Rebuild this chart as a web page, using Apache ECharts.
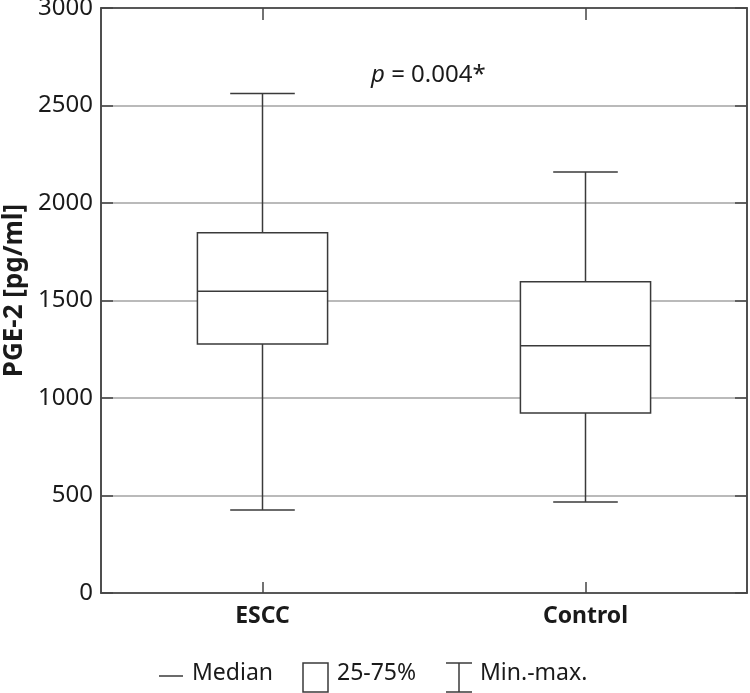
<!DOCTYPE html>
<html>
<head>
<meta charset="utf-8">
<script src="https://cdn.jsdelivr.net/npm/echarts@6/dist/echarts.min.js"></script>
<style>html,body{margin:0;padding:0;background:#fff}#c{width:750px;height:693px}</style>
</head>
<body>
<div id="c"></div>
<script>
const categories = ['ESCC', 'Control'];
const minVals = [426, 467];
const q1Vals = [1277, 923];
const medianVals = [1547, 1268];
const q3Vals = [1848, 1596];
const maxVals = [2562, 2159];
const yTicks = [0, 500, 1000, 1500, 2000, 2500, 3000];

const FONT = 'Noto Sans';
const LINE = '#3a3a3a';

const seriesData = categories.map((c, i) => [i, minVals[i], q1Vals[i], medianVals[i], q3Vals[i], maxVals[i]]);

const chart = echarts.init(document.getElementById('c'), null, {renderer: 'canvas'});
chart.setOption({
  animation: false,
  backgroundColor: '#fff',
  grid: {left: 101, top: 8, right: 3, bottom: 100, containLabel: false, outerBoundsMode: 'none',
    show: true, borderColor: '#444', borderWidth: 1.5, backgroundColor: 'transparent'},
  xAxis: [{
    type: 'category', data: categories, boundaryGap: true, position: 'bottom',
    axisLine: {onZero: false, lineStyle: {color: '#444', width: 1.5}},
    axisTick: {show: true, inside: true, alignWithLabel: true, length: 11, lineStyle: {color: '#444', width: 1.5}},
    axisLabel: {fontFamily: FONT, fontSize: 23, fontWeight: 'bold', color: '#1a1a1a', margin: 12},
    splitLine: {show: false}
  }, {
    type: 'category', data: categories, boundaryGap: true, position: 'top',
    axisLine: {onZero: false, lineStyle: {color: '#444', width: 1.5}},
    axisTick: {show: true, inside: true, alignWithLabel: true, length: 12, lineStyle: {color: '#444', width: 1.5}},
    axisLabel: {show: false}, splitLine: {show: false}
  }],
  yAxis: [{
    type: 'value', min: yTicks[0], max: yTicks[yTicks.length - 1], interval: 500,
    name: 'PGE-2 [pg/ml]', nameLocation: 'middle', nameGap: 64, nameRotate: 90,
    nameTextStyle: {fontFamily: FONT, fontSize: 26, fontWeight: 'bold', color: '#1a1a1a', padding: [0, 0, 0, 20]},
    axisLine: {show: true, lineStyle: {color: '#444', width: 1.5}},
    axisTick: {show: true, inside: true, length: 12, lineStyle: {color: '#444', width: 1.5}},
    axisLabel: {fontFamily: FONT, fontSize: 24, color: '#1a1a1a', margin: 8, formatter: v => String(v)},
    splitLine: {show: true, lineStyle: {color: '#a3a3a3', width: 1.5}}
  }, {
    type: 'value', min: yTicks[0], max: yTicks[yTicks.length - 1], interval: 500, position: 'right',
    axisLine: {show: true, lineStyle: {color: '#444', width: 1.5}},
    axisTick: {show: true, inside: true, length: 12, lineStyle: {color: '#444', width: 1.5}},
    axisLabel: {show: false}, splitLine: {show: false}
  }],
  series: [{
    type: 'custom',
    xAxisIndex: 0, yAxisIndex: 0,
    data: seriesData,
    encode: {x: 0, y: [1, 2, 3, 4, 5]},
    z: 5,
    renderItem: function (params, api) {
      const x = api.value(0);
      const pMin = api.coord([x, api.value(1)]);
      const pQ1 = api.coord([x, api.value(2)]);
      const pMed = api.coord([x, api.value(3)]);
      const pQ3 = api.coord([x, api.value(4)]);
      const pMax = api.coord([x, api.value(5)]);
      const bandW = api.size([1, 0])[0];
      const bw = bandW * 0.403;
      const cw = bandW * 0.2;
      const cx = pMed[0];
      const st = {stroke: LINE, lineWidth: 1.5, fill: null};
      return {
        type: 'group',
        children: [
          {type: 'line', shape: {x1: cx, y1: pQ3[1], x2: cx, y2: pMax[1]}, style: st},
          {type: 'line', shape: {x1: cx - cw / 2, y1: pMax[1], x2: cx + cw / 2, y2: pMax[1]}, style: st},
          {type: 'line', shape: {x1: cx, y1: pQ1[1], x2: cx, y2: pMin[1]}, style: st},
          {type: 'line', shape: {x1: cx - cw / 2, y1: pMin[1], x2: cx + cw / 2, y2: pMin[1]}, style: st},
          {type: 'rect', shape: {x: cx - bw / 2, y: pQ3[1], width: bw, height: pQ1[1] - pQ3[1]}, style: {stroke: LINE, lineWidth: 1.5, fill: '#fff'}},
          {type: 'line', shape: {x1: cx - bw / 2, y1: pMed[1], x2: cx + bw / 2, y2: pMed[1]}, style: st}
        ]
      };
    }
  }],
  graphic: [
    {type: 'text', left: 371, top: 63, style: {
      text: '{i|p} = 0.004*', font: '24px "Noto Sans"', fill: '#1a1a1a',
      rich: {i: {fontStyle: 'italic', fontFamily: FONT, fontSize: 24, fill: '#1a1a1a'}}
    }},
    {type: 'line', shape: {x1: 159, y1: 676, x2: 183, y2: 676}, style: {stroke: LINE, lineWidth: 1.5}},
    {type: 'text', left: 192, top: 662, style: {text: 'Median', font: '23px "Noto Sans"', fill: '#1a1a1a'}},
    {type: 'rect', shape: {x: 303, y: 663, width: 25, height: 29}, style: {stroke: LINE, lineWidth: 1.5, fill: '#fff'}},
    {type: 'text', left: 337, top: 662, style: {text: '25-75%', font: '23px "Noto Sans"', fill: '#1a1a1a'}},
    {type: 'line', shape: {x1: 446, y1: 663, x2: 472, y2: 663}, style: {stroke: LINE, lineWidth: 1.5}},
    {type: 'line', shape: {x1: 459, y1: 663, x2: 459, y2: 692}, style: {stroke: LINE, lineWidth: 1.5}},
    {type: 'line', shape: {x1: 446, y1: 692, x2: 472, y2: 692}, style: {stroke: LINE, lineWidth: 1.5}},
    {type: 'text', left: 480, top: 662, style: {text: 'Min.-max.', font: '23px "Noto Sans"', fill: '#1a1a1a'}}
  ]
});
</script>
</body>
</html>
